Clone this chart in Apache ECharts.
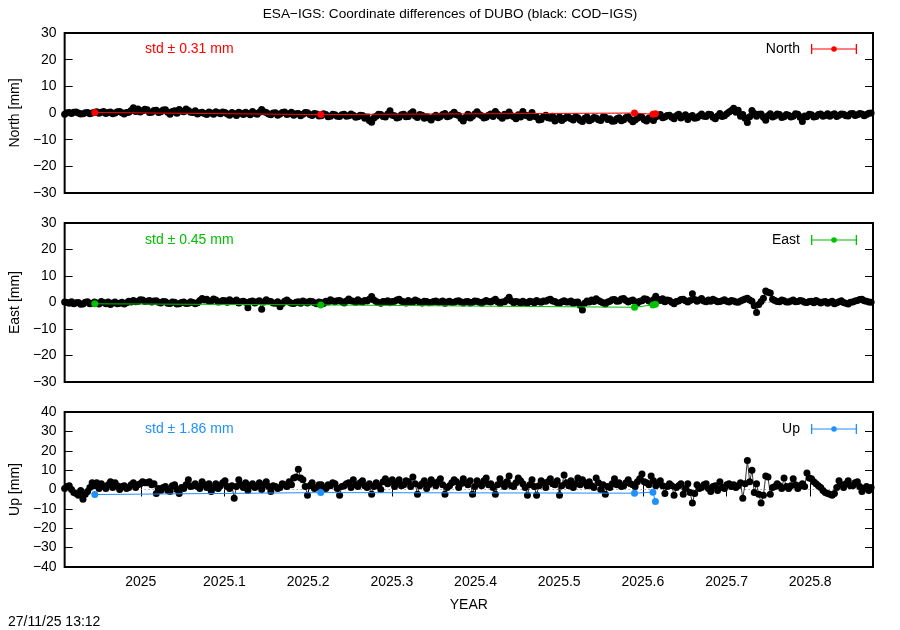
<!DOCTYPE html>
<html>
<head>
<meta charset="utf-8">
<script src="https://cdn.jsdelivr.net/npm/echarts@6/dist/echarts.min.js"></script>
<style>html,body{margin:0;padding:0;background:#fff}#c{width:900px;height:630px}</style>
</head>
<body>
<div id="c"></div>
<script>
// ---- data ----
const startYear = 2024.909;           // first COD-IGS epoch (decimal year)
const stepYears = 1 / 365.25;         // daily sampling of the COD-IGS series
const xMin = 2024.909, xMax = 2025.875;
const xTicks = [2025, 2025.1, 2025.2, 2025.3, 2025.4, 2025.5, 2025.6, 2025.7, 2025.8];

const northCOD = [
 -0.5,0.1,0.2,-0.2,0.3,0.4,0,-0.4,-0.3,0.1,0.2,-0.3,0,0.3,0.5,-0.1,0.3,0.6,-0.2,0.2,
 0.4,-0.3,0,0.5,0.6,0.1,-0.4,0.2,0.3,0.9,2.0,0.6,1.5,0.4,0.8,1.4,1.2,0.2,0.3,0.9,
 1.0,0.2,0.5,1.1,1.2,0.3,-0.5,0.6,0.8,-0.1,1.3,0.7,0.5,1.5,0.9,0.3,0.2,0.8,-0.4,0.1,
 0.3,-0.2,-0.6,0.4,0,-0.5,0.5,0.1,-0.3,0.4,0.2,-0.4,-0.8,0.2,-0.2,-0.9,0.3,-0.1,-0.6,0.3,
 -0.2,-0.7,0.6,-0.1,-0.5,0.3,1.3,0.5,0.2,-0.4,-0.7,0.0,0.1,-0.8,-0.4,0.2,0.4,-0.6,-0.3,0.3,
 -0.8,-0.3,-0.2,-1.0,-0.5,0.2,0.1,-0.6,-0.9,-0.2,-0.4,-1.1,-1.0,-0.3,-0.6,-1.4,-1.2,-0.5,-0.7,-1.2,
 -1.3,-0.7,-0.5,-1.2,-1.0,-0.4,-0.8,-1.6,-1.4,-0.8,-0.9,-2.0,-1.5,-2.8,-3.5,-1.9,-1.2,-0.5,-0.6,-1.3,
 -1.5,-0.4,0.8,-0.8,-1.0,-1.9,-1.6,-0.7,-0.5,-1.4,-1.3,-0.2,0.5,-1.1,-1.7,-0.6,-0.8,-2.0,-1.4,-1.9,
 -2.6,-1.5,-0.8,-1.8,-1.3,-0.6,-0.2,-1.4,-1.1,-0.5,0.3,-0.7,-0.9,-2.1,-3.0,-1.6,-0.5,-1.9,-1.2,-0.4,
 0.5,-0.6,-1.0,-1.9,-1.6,-0.8,-0.4,-1.3,0.6,-0.5,-1.2,-2.0,-0.5,-1.1,0.4,-0.9,-1.4,-2.2,-0.7,-1.5,
 0.6,-0.8,-1.0,-1.7,0.2,-1.2,-1.5,-2.6,-2.4,-1.3,-0.8,-1.8,-2.0,-1.2,-3.0,-2.3,-1.4,-2.8,-2.2,-1.6,
 -1.6,-2.2,-2.6,-1.4,-1.8,-2.7,-3.2,-2.0,-1.5,-2.9,-2.4,-1.7,-1.9,-2.5,-2.8,-1.5,-1.6,-2.4,-2.2,-3.1,
 -3.0,-2.2,-1.8,-2.9,-2.5,-1.7,-1.4,-2.4,-3.3,-2.6,-2.0,-1.3,-1.6,-2.5,-3.0,-1.9,-2.2,-2.8,-1.5,-1.0,
 -0.6,-1.8,-1.5,-0.9,-0.8,-1.6,-2.2,-1.0,-0.5,-1.9,-1.2,-0.7,-2.4,-1.5,-0.9,-2.0,-1.8,-1.1,-0.4,-1.2,
 -1.3,-0.5,-0.6,-1.6,-2.2,-1.1,-0.2,-1.3,-1.0,-0.3,0.4,0.9,1.8,0.3,1.0,-1.2,-0.6,-2.0,-3.6,-1.4,
 0.9,-0.2,-1.2,-0.5,-0.4,-1.6,-2.7,-1.0,-0.3,-1.5,-1.1,-0.4,-0.6,-1.7,-1.4,-0.6,-0.8,-1.5,-1.2,-0.3,
 -0.5,-1.6,-3.2,-1.1,-1.4,-0.5,-0.7,-1.5,-1.3,-0.6,-0.4,-1.2,-0.9,-0.3,-1.2,-0.7,-0.3,-1.3,-0.8,-0.4,
 -0.5,-1.0,-1.1,-0.3,-0.2,-0.9,-0.7,-0.2,-0.4,-1.0,-0.6,-0.1,0.0
];
const eastCOD = [
 0.2,0.0,-0.3,0.3,-0.5,-0.1,0,-0.7,-0.6,0.1,0.3,-0.5,-0.4,0.2,-0.2,-0.6,0.4,0.0,-0.5,0.2,
 -0.8,-0.2,0.2,-0.5,-0.3,0.1,-0.6,-0.1,0.5,0.2,0.8,0.3,0.4,1.0,0.9,0.4,0.5,0.8,0.2,0.6,
 0.7,0.1,-0.2,0.4,0.3,-0.3,-0.4,0.2,0.1,-0.6,-0.5,0.0,0.2,-0.4,-0.3,0.3,0.0,-0.5,-0.1,0.8,
 1.5,0.9,1.2,0.5,0.6,1.3,0.9,0.2,0.3,0.8,0.7,0.1,1.0,0.5,0.4,0.9,-0.2,0.3,0.5,0.1,
 -2.0,0.4,0.6,-0.2,0.3,0.7,-2.5,0.2,1.0,0.5,0.4,-0.2,-0.3,0.3,-1.6,-0.4,0.5,0.9,0.2,-0.3,
 -0.4,0.1,0.3,-0.3,0.6,0.2,-0.2,0.5,0.4,-0.1,-0.5,0.2,0.0,-0.4,0.5,0.2,1.0,0.6,0.3,0.7,
 0.8,0.3,-0.2,0.6,1.3,0.7,0.5,0.1,1.0,0.4,0.2,0.8,0.6,1.2,2.3,0.9,0.4,0.0,-0.3,0.4,
 0.3,0.7,-0.1,0.4,0.5,0.9,1.2,0.5,0.3,-0.2,0.8,0.3,0.2,0.9,0.6,0.1,-0.2,0.5,0.4,-0.1,
 0.0,0.4,0.6,0.1,0.2,0.6,-0.3,0.2,0.5,0.0,0.1,0.5,0.7,0.2,-0.2,0.3,0.4,-0.2,0.1,0.6,
 0.5,0.1,-0.3,0.3,0.8,0.4,0.2,0.7,1.2,0.3,-0.4,0.2,0.3,0.9,2.0,0.6,-0.1,0.4,0.2,-0.2,
 0.5,0.0,-0.2,0.5,0.3,-0.1,0.8,0.3,0.1,0.6,0.5,0.9,1.2,0.6,0.4,-0.1,-0.3,0.3,0.7,0.2,
 0.2,0.6,-0.4,0.1,0.2,-1.0,-2.8,-0.3,0.6,0.2,0.9,0.4,1.4,0.8,0.3,-0.1,-0.6,0.2,0.5,1.0,
 1.1,0.5,0.6,1.3,1.5,0.8,0.2,0.7,0.9,0.3,-0.2,0.5,0.7,1.4,1.2,0.6,0.4,1.0,2.4,1.2,
 0.8,1.4,0.3,0.9,0.8,0.1,-0.5,0.4,0.6,1.1,1.2,0.7,0.2,0.8,3.3,1.1,0.5,0.9,1.5,0.6,
 0.3,0.9,0.5,1.2,0.8,0.3,0.4,0.7,1.0,0.5,0.2,0.8,0.6,0.2,0.1,0.6,0.9,1.3,1.6,0.9,
 0.5,-1.2,-3.8,-0.8,0.4,1.6,4.3,3.9,3.6,1.2,0.8,0.4,0.3,0.9,0.7,0.2,0.2,0.6,0.9,0.3,
 0.4,0.8,0.6,0.1,0.0,0.4,0.5,-0.1,0.8,0.3,-0.2,0.2,0.4,-0.3,0.1,0.5,-0.5,-0.1,0.3,0.7,
 0.0,-0.3,-0.6,0.1,0.2,0.6,0.8,1.1,1.2,0.7,0.5,0.2,0.1
];
const upCOD = [
 0.5,1.5,2.0,0.0,-1.5,-2.0,-3.0,-0.5,-5.0,-2.5,-1.0,1.0,3.5,2.0,3.5,0.5,3.0,1.5,0.5,2.5,
 4.0,1.0,3.5,2.0,0.0,1.5,2.0,0.5,1.0,2.5,3.5,1.0,2.5,3.0,4.0,3.5,3.5,4.0,2.5,3.0,
 -2.0,0.5,-0.5,1.0,1.5,-0.5,-1.0,2.0,2.5,0.0,-2.0,1.0,0.5,2.5,5.0,1.5,2.0,3.0,1.5,0.5,
 4.0,2.5,1.0,3.0,-1.0,1.0,3.0,0.5,2.0,3.5,4.5,1.5,0.5,2.0,-4.5,1.5,5.0,2.5,1.0,3.5,
 -0.5,2.0,3.0,1.0,2.0,3.5,0.0,2.5,4.0,1.5,-1.0,2.0,1.5,0.5,1.0,3.0,2.5,1.5,4.0,2.5,
 6.0,6.5,10.5,6.0,5.0,1.5,-3.0,2.0,3.5,0.5,1.0,2.5,2.5,1.0,0.5,2.5,2.0,3.5,3.0,0.5,
 -3.0,1.5,2.0,3.0,3.5,1.0,5.0,2.5,1.5,3.5,4.5,2.0,1.0,3.0,-2.5,1.5,3.5,2.0,0.0,4.0,
 5.5,3.0,4.0,5.0,1.5,3.5,5.0,2.0,2.5,4.5,4.0,1.5,6.5,3.0,-2.5,2.0,3.0,4.5,0.5,2.5,
 5.0,3.5,2.0,4.0,5.5,2.5,-2.5,1.0,2.0,3.5,5.0,4.0,1.0,3.0,5.5,3.5,2.5,4.5,-2.5,1.5,
 4.5,3.0,2.0,4.5,6.0,2.5,3.0,1.0,-2.5,2.5,5.5,3.0,1.5,4.0,7.0,2.0,1.5,3.5,6.0,4.5,
 3.0,1.0,-3.0,2.5,5.0,1.5,-3.0,2.0,4.5,3.5,1.0,4.0,5.5,3.0,2.5,4.5,-3.0,2.0,7.5,3.5,
 2.0,4.5,1.0,3.0,6.0,2.5,5.0,3.5,2.0,4.0,2.0,1.0,6.0,3.5,0.0,2.5,-2.5,1.5,1.0,3.0,
 5.5,2.5,3.5,1.5,2.0,3.5,5.0,3.0,2.5,1.5,4.0,5.5,8.0,4.0,3.5,2.5,7.0,4.5,2.0,3.0,
 4.5,2.0,-2.0,1.5,3.0,2.0,-3.0,1.0,2.0,3.0,-2.5,0.5,3.0,-1.5,-7.0,-2.0,2.5,0.5,1.0,2.5,
 3.0,0.5,-1.0,1.5,2.0,-0.5,4.0,1.0,0.5,2.5,3.0,1.5,2.5,1.0,2.0,3.5,-4.5,3.0,15.0,4.0,
 10.0,-1.5,3.0,-2.5,-7.0,-3.0,7.0,6.5,-2.5,1.0,1.5,3.0,2.0,0.5,6.0,1.5,0.5,2.0,5.5,2.5,
 0.5,2.0,3.0,1.5,8.5,6.0,5.5,4.0,3.0,2.0,1.0,-0.5,-1.5,-2.0,-2.5,-3.0,-2.0,1.0,4.5,2.5,
 1.0,3.0,4.5,2.0,2.0,3.5,4.0,1.5,-1.0,0.5,1.5,-0.5,1.0
];

const esaYears = [2024.945, 2025.215, 2025.590, 2025.612, 2025.615];
const northESA = [0.2, -0.6, 0.0, -0.5, -0.3];
const eastESA  = [-0.5, -0.9, -1.8, -0.9, -0.7];
const upESA    = [-2.6, -1.6, -1.9, -1.4, -6.2];

const panelNames = ['North', 'East', 'Up'];
const stdTexts = ['std \u00b1 0.31 mm', 'std \u00b1 0.45 mm', 'std \u00b1 1.86 mm'];
const yRanges = [[-30, 30], [-30, 30], [-40, 40]];

// ---- chart ----
const FONT = 'Liberation Sans, Arial, Helvetica, sans-serif';
const colors = ['#ff0000', '#00c000', '#1e90ff'];
const codSets = [northCOD, eastCOD, upCOD];
const esaSets = [northESA, eastESA, upESA];
const grids = [
  {left: 64, right: 27, top: 33, height: 160},
  {left: 64, right: 27, top: 223, height: 159},
  {left: 64, right: 27, top: 412, height: 155}
];
const textTops = [37, 228, 417];

const codX = northCOD.map((_, i) => startYear + i * stepYears);

const errIcon = 'path://M0,0H1.3V10H0Z M44.7,0H46V10H44.7Z M1.3,4.4H20.2V5.6H1.3Z M25.8,4.4H44.7V5.6H25.8Z M25.8,5A2.8,2.8 0 1 1 20.2,5A2.8,2.8 0 1 1 25.8,5Z';

const xAxes = [], yAxes = [], series = [], legends = [];
const titles = [{
  text: 'ESA\u2212IGS: Coordinate differences of DUBO (black: COD\u2212IGS)',
  left: 'center', top: 2,
  textStyle: {fontFamily: FONT, fontSize: 13.6, fontWeight: 'normal', color: '#000'}
}, {
  text: '27/11/25 13:12', left: 3, top: 610,
  textStyle: {fontFamily: FONT, fontSize: 14, fontWeight: 'normal', color: '#000'}
}];

for (let k = 0; k < 3; k++) {
  const last = k === 2;
  xAxes.push({
    gridIndex: k, type: 'value', min: xMin, max: xMax, position: 'bottom',
    axisLine: {show: false}, splitLine: {show: false},
    axisTick: last ? {show: true, inside: true, length: 7, customValues: xTicks, lineStyle: {color: '#000', width: 1}} : {show: false},
    axisLabel: last ? {show: true, customValues: xTicks, margin: 8, color: '#000', fontFamily: FONT, fontSize: 14,
      formatter: v => String(+(+v).toFixed(1))} : {show: false},
    name: last ? 'YEAR' : '', nameLocation: 'middle', nameGap: 31,
    nameTextStyle: {fontFamily: FONT, fontSize: 14, color: '#000'}
  });
  if (last) {
    xAxes.push({
      gridIndex: k, type: 'value', min: xMin, max: xMax, position: 'top',
      axisLine: {show: false}, splitLine: {show: false}, axisLabel: {show: false},
      axisTick: {show: true, inside: true, length: 7, customValues: xTicks, lineStyle: {color: '#000', width: 1}}
    });
  }
  const [ymin, ymax] = yRanges[k];
  yAxes.push({
    gridIndex: k, type: 'value', min: ymin, max: ymax, interval: 10, position: 'left',
    axisLine: {show: false}, splitLine: {show: false},
    axisTick: {show: true, inside: true, length: 8, lineStyle: {color: '#000', width: 1}},
    axisLabel: {margin: 8, color: '#000', fontFamily: FONT, fontSize: 14,
      formatter: v => (v < 0 ? '\u2212' + Math.abs(v) : String(v))},
    name: panelNames[k] + ' [mm]', nameLocation: 'middle', nameGap: 41, nameRotate: 90,
    nameTextStyle: {fontFamily: FONT, fontSize: 14, color: '#000'}
  });
  yAxes.push({
    gridIndex: k, type: 'value', min: ymin, max: ymax, interval: 10, position: 'right',
    axisLine: {show: false}, splitLine: {show: false}, axisLabel: {show: false},
    axisTick: {show: true, inside: true, length: 8, lineStyle: {color: '#000', width: 1}}
  });
  series.push({
    name: 'COD ' + panelNames[k], type: 'line', xAxisIndex: k, yAxisIndex: 2 * k,
    data: codSets[k].map((v, i) => [codX[i], v]),
    symbol: 'circle', symbolSize: 7, showSymbol: true, showAllSymbol: true,
    lineStyle: {color: '#000', width: 0.8}, itemStyle: {color: '#000'},
    z: 3, silent: true,
    markLine: {
      silent: true, symbol: ['none', 'none'], label: {show: false},
      lineStyle: {type: [1, 3], color: '#777', width: 1},
      data: [{yAxis: 0}], z: 1
    }
  });
  series.push({
    name: panelNames[k], type: 'line', xAxisIndex: k, yAxisIndex: 2 * k,
    data: esaSets[k].map((v, i) => [esaYears[i], v]),
    symbol: 'circle', symbolSize: 7,
    lineStyle: {color: colors[k], width: 1}, itemStyle: {color: colors[k]},
    z: 4, silent: true
  });
  legends.push({
    data: [{name: panelNames[k], icon: errIcon}], right: 38, top: textTops[k],
    itemWidth: 46, itemHeight: 10, align: 'right', selectedMode: false,
    textStyle: {fontFamily: FONT, fontSize: 14, color: '#000', padding: [0, 6, 0, 0]}
  });
  titles.push({
    text: stdTexts[k], left: 140, top: textTops[k],
    textStyle: {fontFamily: FONT, fontSize: 14, fontWeight: 'normal', color: colors[k]}
  });
}

const chart = echarts.init(document.getElementById('c'), null, {renderer: 'canvas'});
chart.setOption({
  animation: false,
  backgroundColor: '#fff',
  title: titles,
  legend: legends,
  grid: grids.map(g => Object.assign({show: true, borderColor: '#000', borderWidth: 2, backgroundColor: 'transparent'}, g)),
  xAxis: xAxes,
  yAxis: yAxes,
  series: series
});
</script>
</body>
</html>
